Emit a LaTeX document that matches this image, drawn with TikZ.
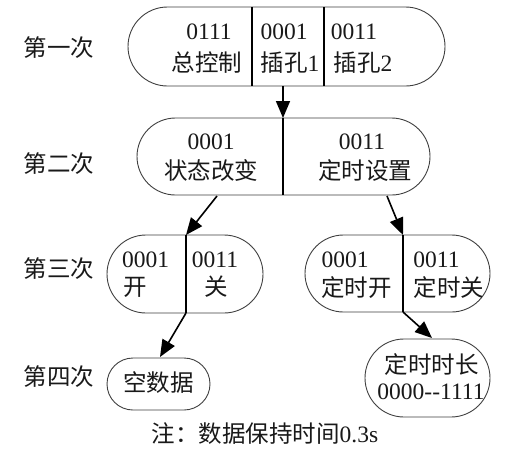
\documentclass[tikz,border=0pt]{standalone}
\usepackage{fontspec}
\setmainfont{Liberation Serif}
\newfontfamily\cjk{Noto Sans CJK SC}
\newcommand\zhs[1]{{\cjk #1}}
\usetikzlibrary{shapes.misc,arrows.meta}
\begin{document}
\begin{tikzpicture}[x=1pt,y=-1pt,
  capsule/.style={draw=black!75, line width=0.9pt, rounded rectangle, inner sep=0pt},
  txt/.style={inner sep=0pt, font=\fontsize{23.5}{26}\selectfont, text=black!90},
  div/.style={line width=1.1pt},
  arr/.style={line width=1.6pt, -{Triangle[length=17pt,width=14pt]}}]
\useasboundingbox (0,0) rectangle (523,464);
\fill[white] (0,0) rectangle (523,464);

% row labels
\node[txt] (l1) at (59,48)  {\zhs{第一次}};
\node[txt] (l2) at (59,164) {\zhs{第二次}};
\node[txt] (l3) at (59,269) {\zhs{第三次}};
\node[txt] (l4) at (59,377) {\zhs{第四次}};

% capsules
\node[capsule, minimum width=317pt, minimum height=79pt] (b1) at (286.5,46.5) {};
\node[capsule, minimum width=293pt, minimum height=77pt] (b2) at (283.5,156.5) {};
\node[capsule, minimum width=156pt, minimum height=78pt] (b3) at (185,274) {};
\node[capsule, minimum width=185pt, minimum height=77pt] (b4) at (397.5,273.5) {};
\node[capsule, minimum width=103pt, minimum height=52pt] (b5) at (158.5,384) {};
\node[capsule, minimum width=125pt, minimum height=78pt] (b6) at (427.5,378) {};

% dividers
\coordinate (d1t) at (252,7);   \coordinate (d1b) at (252,86);
\coordinate (d2t) at (324,7);   \coordinate (d2b) at (324,86);
\coordinate (d3t) at (283,118); \coordinate (d3b) at (283,195);
\coordinate (d4t) at (186,235); \coordinate (d4b) at (186,313);
\coordinate (d5t) at (403,235); \coordinate (d5b) at (403,312);
\draw[div] (d1t) -- (d1b);
\draw[div] (d2t) -- (d2b);
\draw[div] (d3t) -- (d3b);
\draw[div] (d4t) -- (d4b);
\draw[div] (d5t) -- (d5b);

% texts box 1
\node[txt] (t1a) at (209,32) {0111};
\node[txt] (t1b) at (207,63) {\zhs{总控制}};
\node[txt] (t2a) at (284,32) {0001};
\node[txt] (t2b) at (290,63) {\zhs{插孔}1};
\node[txt] (t3a) at (354,32) {0011};
\node[txt] (t3b) at (363,63) {\zhs{插孔}2};
% box 2
\node[txt] (t4a) at (211,142) {0001};
\node[txt] (t4b) at (211,171) {\zhs{状态改变}};
\node[txt] (t5a) at (362,142) {0011};
\node[txt] (t5b) at (365,171) {\zhs{定时设置}};
% box 3
\node[txt] (t6a) at (145.5,260) {0001};
\node[txt] (t6b) at (135,287) {\zhs{开}};
\node[txt] (t7a) at (215,260) {0011};
\node[txt] (t7b) at (216,287) {\zhs{关}};
% box 4
\node[txt] (t8a) at (345,260) {0001};
\node[txt] (t8b) at (356.5,288) {\zhs{定时开}};
\node[txt] (t9a) at (436.5,260) {0011};
\node[txt] (t9b) at (449,288) {\zhs{定时关}};
% box 5
\node[txt] (t10) at (158.5,383) {\zhs{空数据}};
% box 6
\node[txt] (t11a) at (431.5,365) {\zhs{定时时长}};
\node[txt] (t11b) at (431,392) {0000-{}-1111};

% caption
\node[txt] (note) at (265,434) {\zhs{注：数据保持时间}0.3s};

% arrows
\coordinate (a1s) at (283,86);
\coordinate (a2s) at (217,196);
\coordinate (a3s) at (387,196);
\coordinate (a4e) at (160,357);
\coordinate (a5e) at (432,338);
\draw[arr] (a1s) -- (d3t);
\draw[arr] (a2s) -- (d4t);
\draw[arr] (a3s) -- (d5t);
\draw[arr] (d4b) -- (a4e);
\draw[arr] (d5b) -- (a5e);
\end{tikzpicture}
\end{document}
